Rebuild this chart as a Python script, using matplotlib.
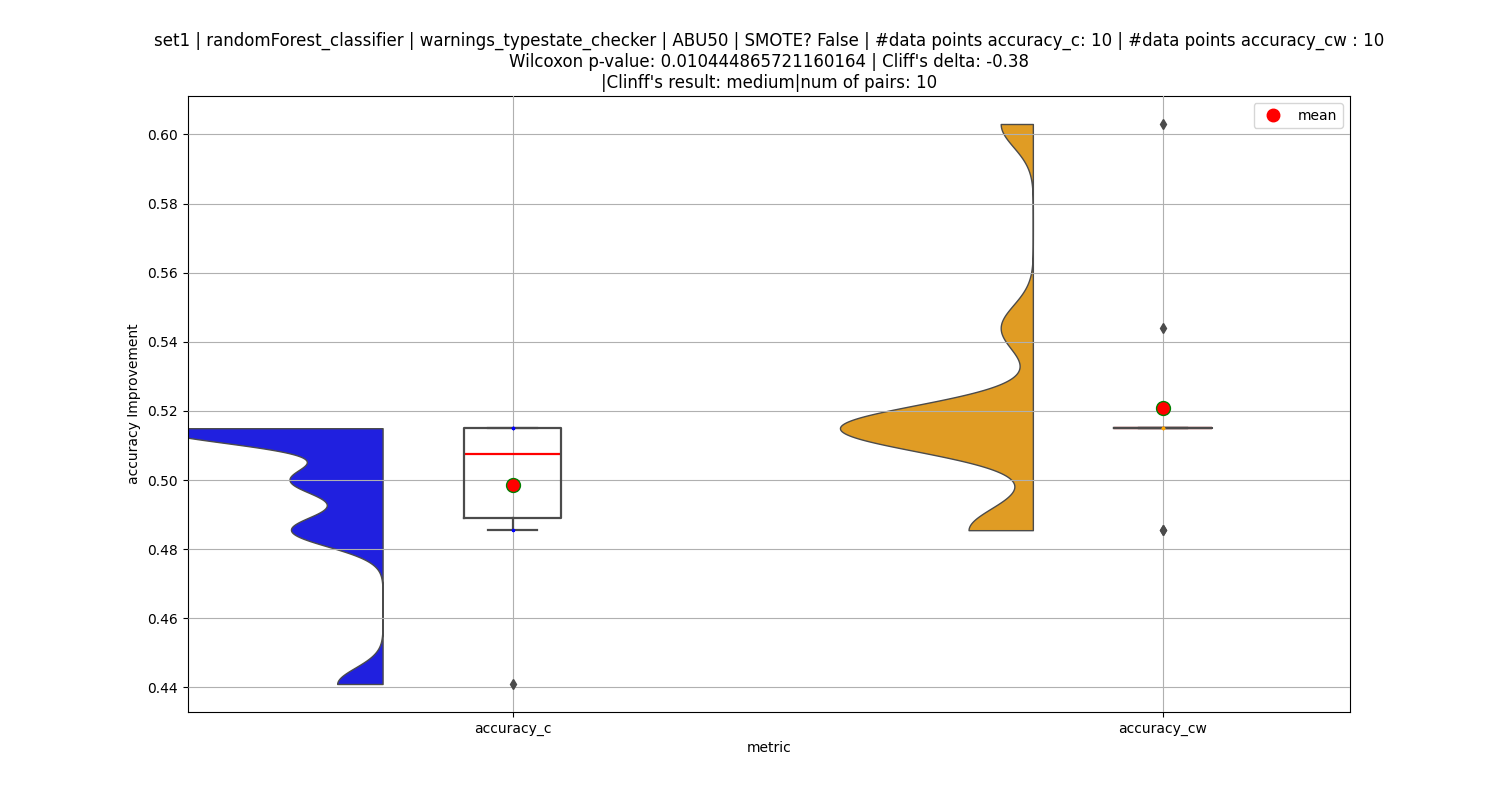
import matplotlib
matplotlib.use('Agg')
import matplotlib.pyplot as plt
from matplotlib.lines import Line2D
import numpy as np

# data
metrics = ['accuracy_c', 'accuracy_cw']
accuracy_c = [0.441, 0.4855, 0.4855, 0.500, 0.500, 0.515, 0.515, 0.515, 0.515, 0.515]
accuracy_cw = [0.4855, 0.4855, 0.515, 0.515, 0.515, 0.515, 0.515, 0.515, 0.544, 0.603]
series = [accuracy_c, accuracy_cw]
violin_colors = ['#2020df', '#e09c24']
point_colors = ['blue', 'orange']

title = ("set1 | randomForest_classifier | warnings_typestate_checker | ABU50 | SMOTE? False | "
         "#data points accuracy_c: 10 | #data points accuracy_cw : 10\n"
         "Wilcoxon p-value: 0.010444865721160164 | Cliff's delta: -0.38\n"
         "|Clinff's result: medium|num of pairs: 10")

edge = '#4b4b4b'
bw = 0.2           # kde bandwidth factor
half_width = 0.35  # max half width of violins
shift = -0.2       # violins sit to the left of the box

fig, ax = plt.subplots(figsize=(15, 8), dpi=100)

# half violins (kde, cut at data range, scaled by area)
kdes = []
for vals in series:
    v = np.asarray(vals)
    h = bw * v.std(ddof=1)
    y = np.linspace(v.min(), v.max(), 400)
    d = np.exp(-0.5 * ((y[:, None] - v[None, :]) / h) ** 2).sum(axis=1) / (len(v) * h * np.sqrt(2 * np.pi))
    kdes.append((y, d))
dmax = max(d.max() for _, d in kdes)
for i, (y, d) in enumerate(kdes):
    x0 = i + shift
    ax.fill_betweenx(y, x0 - d / dmax * half_width, x0, facecolor=violin_colors[i],
                     edgecolor=edge, linewidth=1, zorder=1)

# raw points (over the box lines, under fliers and means)
for i, vals in enumerate(series):
    ax.scatter([i] * len(vals), vals, s=2, color=point_colors[i], zorder=3.2)

# box plots
ax.boxplot(series, positions=range(len(series)), widths=0.15, whis=1.5,
           manage_ticks=False,
           boxprops=dict(color=edge, linewidth=1.6, zorder=3),
           whiskerprops=dict(color=edge, linewidth=1.6, zorder=3),
           capprops=dict(color=edge, linewidth=1.6, zorder=3),
           medianprops=dict(color='red', linewidth=1.6, zorder=2.6),
           flierprops=dict(marker='d', markerfacecolor=edge, markeredgecolor=edge,
                           markersize=5, zorder=4))

# means
for i, vals in enumerate(series):
    ax.plot(i, np.mean(vals), 'o', markerfacecolor='red', markeredgecolor='green',
            markersize=10, markeredgewidth=1, zorder=5)

ax.set_xticks(range(len(metrics)))
ax.set_xticklabels(metrics)
ax.set_xlim(-0.5, 1.2877)
ax.margins(y=0.05)
ax.grid(True)
ax.set_axisbelow(False)
ax.set_xlabel('metric')
ax.set_ylabel('accuracy Improvement')
ax.set_title(title, fontsize=12)
ax.legend(handles=[Line2D([], [], linestyle='none', marker='o', color='red', markersize=9)],
          labels=['mean'], loc='upper right')

plt.savefig('out.png')
